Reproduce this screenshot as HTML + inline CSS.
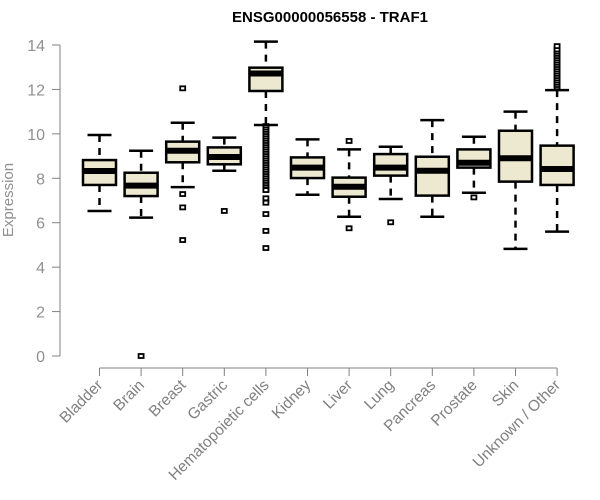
<!DOCTYPE html>
<html><head><meta charset="utf-8"><style>
body{margin:0;background:#fff;}
svg{display:block;font-family:"Liberation Sans",Arial,sans-serif;}
</style></head><body>
<svg id="chart" width="600" height="500">
<text x="330" y="22" text-anchor="middle" font-weight="bold" font-size="15">ENSG00000056558 - TRAF1</text>
<text x="0" y="0" transform="translate(13,200) rotate(-90)" text-anchor="middle" font-size="15" fill="#909090">Expression</text>
<g id="yaxis"></g>
<g id="xaxis"></g>
<g id="boxes"></g>
</svg>
<script>
const categories=["Bladder","Brain","Breast","Gastric","Hematopoietic cells","Kidney","Liver","Lung","Pancreas","Prostate","Skin","Unknown / Other"];
const whiskerLow=[6.53,6.23,7.6,8.34,10.4,7.26,6.27,7.07,6.27,7.35,4.82,5.6];
const q1=[7.7,7.2,8.72,8.63,11.93,8.01,7.17,8.12,7.22,8.48,7.85,7.7];
const medians=[8.33,7.67,9.24,8.96,12.72,8.48,7.62,8.48,8.34,8.7,8.9,8.42];
const q3=[8.82,8.25,9.65,9.39,12.98,8.94,8.03,9.09,8.97,9.3,10.14,9.47];
const whiskerHigh=[9.95,9.24,10.5,9.83,14.15,9.75,9.3,9.42,10.62,9.87,11.0,11.97];
const outliers=[[],[0],[12.05,7.29,6.69,5.22],[6.53],
[10.35,10.3,10.2,10.1,10.0,9.9,9.8,9.7,9.6,9.5,9.4,9.3,9.2,9.1,9.0,8.9,8.8,8.7,8.6,8.5,8.4,8.3,8.2,8.1,8.0,7.9,7.8,7.7,7.6,7.5,7.47,7.1,6.9,6.39,5.63,4.86],
[],[9.68,5.75],[6.02],[],[7.14],[],
[12.1,12.2,12.3,12.4,12.5,12.6,12.7,12.8,12.9,13.0,13.1,13.2,13.3,13.4,13.5,13.6,13.7,13.8,13.95]];
const yTicks=[0,2,4,6,8,10,12,14];
const NS="http://www.w3.org/2000/svg";
function y(v){return 356-v*22.214;}
function x(i){return 99.5+i*41.6;}
function mk(tag,attrs,parent){const e=document.createElementNS(NS,tag);for(const k in attrs)e.setAttribute(k,attrs[k]);parent.appendChild(e);return e;}
const ya=document.getElementById('yaxis'),xa=document.getElementById('xaxis'),bx=document.getElementById('boxes');
let l=mk('line',{x1:60,x2:60,y1:y(14),y2:y(0),stroke:'#808080'},ya);


yTicks.forEach(t=>{
 let tk=mk('line',{x1:52,x2:60,y1:y(t),y2:y(t),stroke:'#808080'},ya);
 
 
 let tx=mk('text',{x:45,y:y(t)+6,'text-anchor':'end','font-size':16,fill:'#909090'},ya);
 tx.textContent=t;
 
 
});
let xl=mk('line',{x1:x(0),x2:x(categories.length-1),y1:368,y2:368,stroke:'#808080'},xa);


categories.forEach((c,i)=>{
 let tk=mk('line',{x1:x(i),x2:x(i),y1:368,y2:376,stroke:'#808080'},xa);
 
 
 let tx=mk('text',{transform:`translate(${x(i)+4},${386}) rotate(-45)`,'text-anchor':'end','font-size':15.5,fill:'#808080'},xa);
 tx.textContent=c;
 
 
 const g=mk('g',{},bx);
 
 
 const cx=x(i),hw=16.5,cap=12;
 mk('line',{x1:cx,x2:cx,y1:y(whiskerHigh[i]),y2:y(q3[i]),stroke:'#000','stroke-width':2.5,'stroke-dasharray':'7,6'},g);
 mk('line',{x1:cx,x2:cx,y1:y(q1[i]),y2:y(whiskerLow[i]),stroke:'#000','stroke-width':2.5,'stroke-dasharray':'7,6'},g);
 mk('line',{x1:cx-cap,x2:cx+cap,y1:y(whiskerHigh[i]),y2:y(whiskerHigh[i]),stroke:'#000','stroke-width':2.5},g);
 mk('line',{x1:cx-cap,x2:cx+cap,y1:y(whiskerLow[i]),y2:y(whiskerLow[i]),stroke:'#000','stroke-width':2.5},g);
 mk('rect',{x:cx-hw,y:y(q3[i]),width:hw*2,height:y(q1[i])-y(q3[i]),fill:'#ede8d0',stroke:'#000','stroke-width':2.5},g);
 mk('line',{x1:cx-hw,x2:cx+hw,y1:y(medians[i]),y2:y(medians[i]),stroke:'#000','stroke-width':6},g);
 outliers[i].forEach(v=>{
  const p=mk('rect',{x:cx-2.5,y:y(v)-2,width:5,height:4,fill:'#fff',stroke:'#000','stroke-width':1.8},g);
  
  
 });
});
</script>
</body></html>
